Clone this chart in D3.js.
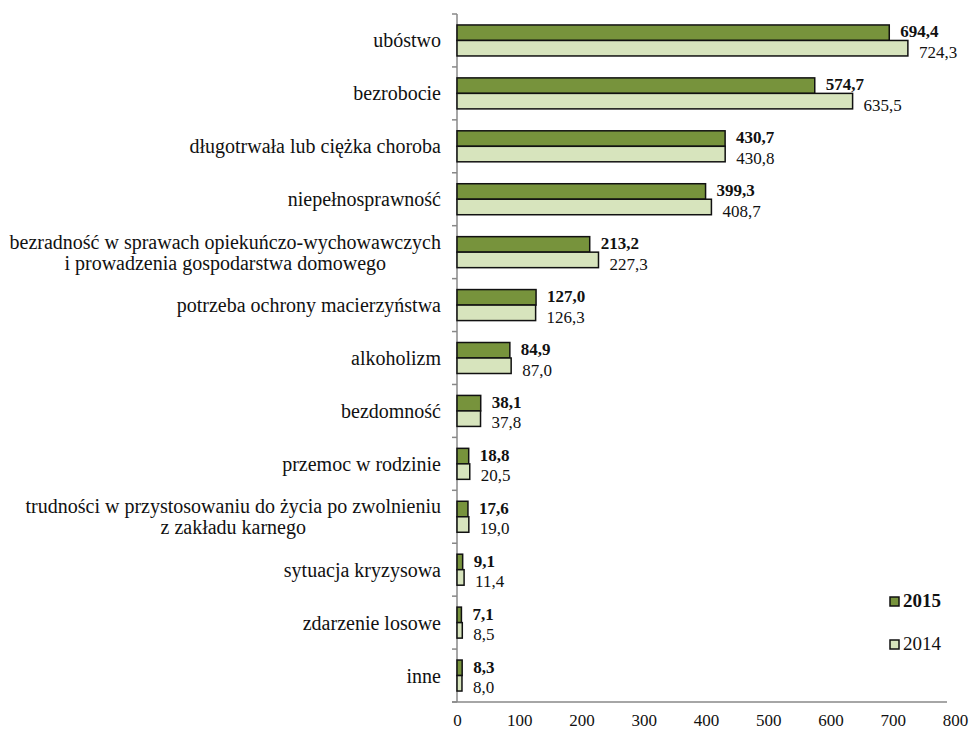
<!DOCTYPE html>
<html>
<head>
<meta charset="utf-8">
<script src="https://cdn.jsdelivr.net/npm/d3@7"></script>
<style>
  body { margin: 0; background: #fff; }
  text { font-family: "Liberation Serif", "Times New Roman", serif; fill: #111; }
</style>
</head>
<body>
<svg id="chart"></svg>
<script>
const categories = [
  ['ubóstwo'],
  ['bezrobocie'],
  ['długotrwała lub ciężka choroba'],
  ['niepełnosprawność'],
  ['bezradność w sprawach opiekuńczo-wychowawczych', 'i prowadzenia gospodarstwa domowego'],
  ['potrzeba ochrony macierzyństwa'],
  ['alkoholizm'],
  ['bezdomność'],
  ['przemoc w rodzinie'],
  ['trudności w przystosowaniu do życia po zwolnieniu', 'z zakładu karnego'],
  ['sytuacja kryzysowa'],
  ['zdarzenie losowe'],
  ['inne']
];
const values2015 = [694.4, 574.7, 430.7, 399.3, 213.2, 127.0, 84.9, 38.1, 18.8, 17.6, 9.1, 7.1, 8.3];
const values2014 = [724.3, 635.5, 430.8, 408.7, 227.3, 126.3, 87.0, 37.8, 20.5, 19.0, 11.4, 8.5, 8.0];
const xTicks = [0, 100, 200, 300, 400, 500, 600, 700, 800];

const width = 973, height = 731;
const svg = d3.select('#chart').attr('width', width).attr('height', height);

const x = d3.scaleLinear().domain([0, 800]).range([457, 955]);
const y = d3.scaleBand().domain(d3.range(categories.length)).range([14, 702]);
const fmt = v => d3.format('.1f')(v).replace('.', ',');

const barH = 15.5;
const dark = '#77933C', light = '#D7E4BD';

// y axis line with outward ticks at band borders
svg.append('line')
  .attr('x1', x(0)).attr('x2', x(0))
  .attr('y1', y.range()[0]).attr('y2', y.range()[1])
  .attr('stroke', '#888').attr('stroke-width', 1.5);
svg.selectAll('.ytick')
  .data(d3.range(categories.length + 1))
  .enter().append('line')
  .attr('x1', x(0) - 5).attr('x2', x(0))
  .attr('y1', i => y.range()[0] + i * y.step())
  .attr('y2', i => y.range()[0] + i * y.step())
  .attr('stroke', '#888').attr('stroke-width', 1.5);

// x axis
const xAxis = d3.axisBottom(x).tickValues(xTicks).tickSize(0).tickPadding(12).tickFormat(d3.format('d'));
const gx = svg.append('g').attr('transform', `translate(0,${y.range()[1]})`).call(xAxis);
gx.select('.domain').attr('stroke', '#888').attr('stroke-width', 1.5).attr('d', `M${x(0) - 5},0H${x(800) - 8}`);
gx.selectAll('text').style('font-family', '"Liberation Serif", serif').style('font-size', '17px').attr('fill', '#111');

// bars
const barTop = i => y(i) + y.bandwidth() / 2 - barH;

svg.selectAll('.b15').data(values2015).enter().append('rect')
  .attr('x', x(0)).attr('y', (d, i) => barTop(i))
  .attr('width', d => x(d) - x(0)).attr('height', barH)
  .attr('fill', dark).attr('stroke', '#111').attr('stroke-width', 1.5);
svg.selectAll('.b14').data(values2014).enter().append('rect')
  .attr('x', x(0)).attr('y', (d, i) => barTop(i) + barH)
  .attr('width', d => x(d) - x(0)).attr('height', barH)
  .attr('fill', light).attr('stroke', '#111').attr('stroke-width', 1.5);

// value labels
svg.selectAll('.l15').data(values2015).enter().append('text')
  .attr('x', d => x(d) + 11).attr('y', (d, i) => barTop(i) + barH - 3)
  .style('font-size', '17px').style('font-weight', 'bold')
  .text(fmt);
svg.selectAll('.l14').data(values2014).enter().append('text')
  .attr('x', d => x(d) + 11).attr('y', (d, i) => barTop(i) + barH * 2 + 2)
  .style('font-size', '17px')
  .text(fmt);

// category labels
const rightEdge = 441, lineH = 21;
categories.forEach((lines, i) => {
  const cy = y(i) + y.bandwidth() / 2;
  const g = svg.append('g');
  const texts = lines.map((ln, k) => g.append('text')
    .style('font-size', '20px')
    .attr('y', cy + (k - (lines.length - 1) / 2) * lineH)
    .attr('dy', '0.35em')
    .text(ln));
  const maxW = d3.max(texts, t => t.node().getComputedTextLength());
  texts.forEach(t => t.attr('text-anchor', 'middle').attr('x', rightEdge - maxW / 2));
});

// legend
const legend = [['2015', dark, 'bold', 607], ['2014', light, 'normal', 650]];
legend.forEach(([label, color, weight, base]) => {
  svg.append('rect').attr('x', 890).attr('y', base - 10).attr('width', 9).attr('height', 9)
    .attr('fill', color).attr('stroke', '#111').attr('stroke-width', 1.5);
  svg.append('text').attr('x', 903).attr('y', base)
    .style('font-size', '19px').style('font-weight', weight).text(label);
});
</script>
</body>
</html>
